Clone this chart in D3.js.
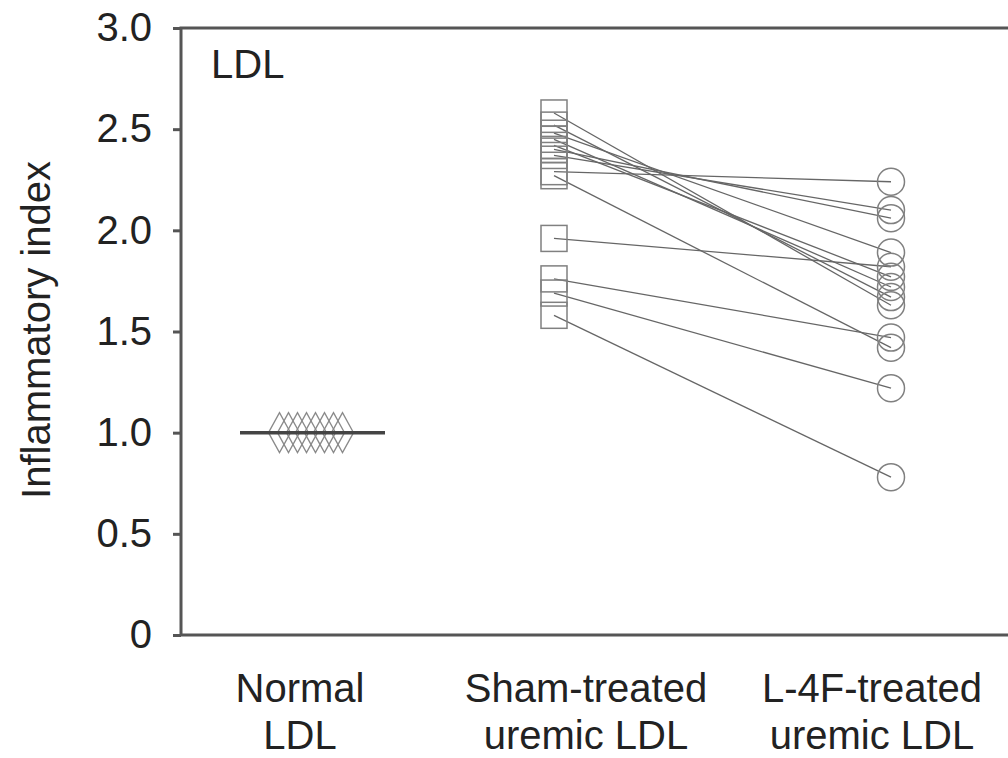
<!DOCTYPE html>
<html>
<head>
<meta charset="UTF-8" />
<title>Inflammatory index</title>
<script src="https://cdn.jsdelivr.net/npm/d3@7"></script>
<style>
  body { margin: 0; background: #fff; }
  text { font-family: "Liberation Sans", Arial, sans-serif; fill: #222; }
</style>
</head>
<body>
<script>
// data
var categories = ["Normal LDL", "Sham-treated uremic LDL", "L-4F-treated uremic LDL"];
var catLines = [["Normal", "LDL"], ["Sham-treated", "uremic LDL"], ["L-4F-treated", "uremic LDL"]];
var normalValues = [1.0, 1.0, 1.0, 1.0, 1.0, 1.0, 1.0, 1.0];
var normalMean = 1.0;
var shamValues = [2.58, 2.52, 2.48, 2.45, 2.42, 2.40, 2.37, 2.29, 2.27, 1.96, 1.76, 1.69, 1.58];
var l4fValues  = [1.63, 1.67, 1.89, 1.72, 1.77, 2.06, 2.10, 2.24, 1.42, 1.82, 1.47, 1.22, 0.78];
var yTicks = [0, 0.5, 1.0, 1.5, 2.0, 2.5, 3.0];

var W = 1008, H = 758;
var svg = d3.select("body").append("svg").attr("width", W).attr("height", H);

var y = d3.scaleLinear().domain([0, 3]).range([635, 28]);
var x = d3.scalePoint().domain(categories).range([300, 872]);

// marks sit a bit off the label centres in the original
var off = [11, -32, 19];
function mx(i) { return x(categories[i]) + off[i]; }

var plotLeft = 181, plotBottom = 635, plotTop = 28;

// frame (top, left, bottom)
svg.append("path")
  .attr("d", "M" + W + "," + plotTop + "H" + plotLeft + "V" + plotBottom + "H" + W)
  .attr("fill", "none").attr("stroke", "#555").attr("stroke-width", 3);

var yAxis = svg.append("g")
  .attr("transform", "translate(" + plotLeft + ",0)")
  .call(d3.axisLeft(y).tickValues(yTicks).tickSize(8).tickSizeOuter(0).tickPadding(21)
    .tickFormat(function (d) { return d === 0 ? "0" : d.toFixed(1); }));
yAxis.select(".domain").remove();
yAxis.selectAll(".tick line").attr("stroke", "#555").attr("stroke-width", 3);
yAxis.selectAll(".tick text")
  .style("font-family", '"Liberation Sans", Arial, sans-serif')
  .style("font-size", "40px").attr("fill", "#222");

// axis title
svg.append("text")
  .attr("transform", "translate(50,330) rotate(-90)")
  .attr("text-anchor", "middle")
  .style("font-size", "40px")
  .text("Inflammatory index");

svg.append("text")
  .attr("x", 211).attr("y", 78)
  .style("font-size", "40px")
  .text("LDL");

// category labels
catLines.forEach(function (lines, i) {
  var t = svg.append("text")
    .attr("text-anchor", "middle")
    .style("font-size", "40px");
  lines.forEach(function (s, j) {
    t.append("tspan").attr("x", x(categories[i])).attr("y", 702 + j * 47).text(s);
  });
});

// paired lines sham -> L-4F
var pairs = shamValues.map(function (v, i) { return [v, l4fValues[i]]; });
svg.append("g").selectAll("line").data(pairs).enter().append("line")
  .attr("x1", mx(1)).attr("y1", function (d) { return y(d[0]); })
  .attr("x2", mx(2)).attr("y2", function (d) { return y(d[1]); })
  .attr("stroke", "#666").attr("stroke-width", 1.3);

// normal LDL diamonds
var dw = 11, dh = 20;
svg.append("g").selectAll("path").data(normalValues).enter().append("path")
  .attr("d", function (d, i) {
    var cx = mx(0) + (i - (normalValues.length - 1) / 2) * 9;
    var cy = y(d);
    return "M" + (cx - dw) + "," + cy + "L" + cx + "," + (cy - dh) + "L" + (cx + dw) + "," + cy + "L" + cx + "," + (cy + dh) + "Z";
  })
  .attr("fill", "none").attr("stroke", "#8a8a8a").attr("stroke-width", 1.3);

svg.append("line")
  .attr("x1", mx(0) - 71).attr("x2", mx(0) + 74)
  .attr("y1", y(normalMean)).attr("y2", y(normalMean))
  .attr("stroke", "#444").attr("stroke-width", 3.5);

// sham squares
var s = 13;
svg.append("g").selectAll("rect").data(shamValues).enter().append("rect")
  .attr("x", mx(1) - s).attr("y", function (d) { return y(d) - s; })
  .attr("width", 2 * s).attr("height", 2 * s)
  .attr("fill", "none").attr("stroke", "#808080").attr("stroke-width", 1.5);

// L-4F circles
svg.append("g").selectAll("circle").data(l4fValues).enter().append("circle")
  .attr("cx", mx(2)).attr("cy", function (d) { return y(d); })
  .attr("r", 13.5)
  .attr("fill", "none").attr("stroke", "#808080").attr("stroke-width", 1.5);
</script>
</body>
</html>
